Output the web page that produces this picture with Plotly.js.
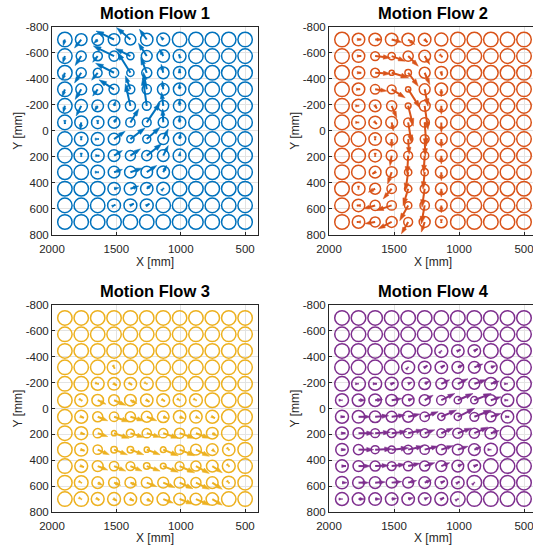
<!DOCTYPE html>
<html>
<head>
<meta charset="utf-8">
<script src="https://cdn.plot.ly/plotly-3.0.1.min.js"></script>
<style>
  html, body { margin: 0; padding: 0; overflow: hidden; background: #fff; }
  #chart { width: 545px; height: 545px; }
</style>
</head>
<body>
<div id="chart"></div>
<script>
// Sensor grid: column centres (X, mm) and row centres (Y, mm)
const colX = [1900, 1773, 1645, 1518, 1391, 1264, 1136, 1009, 882, 755, 627, 500];
const rowY = [-700, -573, -445, -318, -191, -64, 64, 191, 318, 445, 573, 700];

const titles = ['Motion Flow 1', 'Motion Flow 2', 'Motion Flow 3', 'Motion Flow 4'];
const colors = ['#0072BD', '#D95319', '#EDB120', '#7E2F8E'];
const xTicks = [2000, 1500, 1000, 500];
const yTicks = [-800, -600, -400, -200, 0, 200, 400, 600, 800];

// ---- Flow 1: circle radius (mm), displacement u, v (mm) per grid cell ----
const radius1 = [
  [56,45,45,45,42,48,50,56,56,56,56,56],
  [56,39,36,39,28,42,48,50,56,56,56,56],
  [56,39,34,36,28,39,45,48,56,56,56,56],
  [56,42,39,39,34,36,45,48,56,56,56,56],
  [56,48,45,45,39,34,42,48,56,56,56,56],
  [56,50,48,45,36,34,39,48,56,56,56,56],
  [56,53,50,45,28,31,42,48,56,56,56,56],
  [56,56,50,45,39,39,45,50,56,56,56,56],
  [56,56,53,45,45,45,48,56,56,56,56,56],
  [56,56,56,48,48,48,50,56,56,56,56,56],
  [56,56,56,50,50,50,56,56,56,56,56,56],
  [56,56,56,56,56,56,56,56,56,56,56,56]
];
const u1 = [
  [13,52,31,140,107,57,23,0,0,0,0,0],
  [16,47,39,161,117,65,29,5,0,0,0,0],
  [21,52,47,143,99,47,16,0,0,0,0,0],
  [21,47,39,117,39,26,8,0,0,0,0,0],
  [13,39,26,-13,39,31,13,0,0,0,0,0],
  [0,8,0,-26,-65,-104,5,0,0,0,0,0],
  [0,0,-8,-86,-114,-104,-39,-8,0,0,0,0],
  [0,0,-13,-65,-78,-117,-39,-5,0,0,0,0],
  [0,0,-8,-65,-91,-78,-26,0,0,0,0,0],
  [0,0,0,-39,-65,-39,-5,0,0,0,0,0],
  [0,0,0,-10,-26,-21,0,0,0,0,0,0],
  [0,0,0,0,0,0,0,0,0,0,0,0]
];
const v1 = [
  [47,65,31,-65,-91,-78,-26,0,0,0,0,0],
  [52,73,47,-78,-57,-99,-52,-13,0,0,0,0],
  [57,78,57,-73,-156,-117,-65,-31,0,0,0,0],
  [57,78,52,-73,-104,-130,-65,-47,0,0,0,0],
  [52,78,39,-39,-169,-216,-104,-52,0,0,0,0],
  [13,57,13,-39,-104,-151,-104,-47,0,0,0,0],
  [0,8,0,-60,-86,-91,-78,-47,0,0,0,0],
  [0,8,0,-39,-52,-91,-78,-31,0,0,0,0],
  [0,0,0,-21,-31,-52,-52,0,0,0,0,0],
  [0,0,0,-8,-21,-31,-5,0,0,0,0,0],
  [0,0,0,-5,-13,-13,0,0,0,0,0,0],
  [0,0,0,0,0,0,0,0,0,0,0,0]
];

// ---- Flow 2 ----
const radius2 = [
  [56,48,48,48,48,48,50,56,56,56,56,56],
  [56,48,34,28,39,45,50,56,56,56,56,56],
  [56,48,34,20,25,42,48,56,56,56,56,56],
  [56,48,36,34,20,42,48,56,56,56,56,56],
  [56,50,45,39,22,42,45,56,56,56,56,56],
  [56,53,48,45,34,36,45,56,56,56,56,56],
  [56,56,48,45,36,34,45,56,56,56,56,56],
  [56,53,48,42,34,31,45,56,56,56,56,56],
  [56,53,45,42,28,28,45,56,56,56,56,56],
  [56,50,42,36,28,34,45,56,56,56,56,56],
  [56,48,39,36,28,36,45,56,56,56,56,56],
  [56,48,39,42,34,42,45,56,56,56,56,56]
];
const u2 = [
  [0,-21,-52,-78,-52,-21,0,0,0,0,0,0],
  [0,-21,-117,-104,-78,-39,-8,0,0,0,0,0],
  [0,-21,-117,-130,-78,-39,-5,0,0,0,0,0],
  [0,-13,-91,-104,-91,-26,0,0,0,0,0,0],
  [0,-5,-13,-39,-39,-26,0,0,0,0,0,0],
  [0,-5,-13,-13,-26,-13,0,0,0,0,0,0],
  [0,0,0,0,-8,-5,0,0,0,0,0,0],
  [0,0,0,13,8,8,0,0,0,0,0,0],
  [0,0,21,31,21,13,0,0,0,0,0,0],
  [0,0,52,65,39,21,0,0,0,0,0,0],
  [0,13,91,117,65,26,0,0,0,0,0,0],
  [0,13,78,104,52,26,0,0,0,0,0,0]
];
const v2 = [
  [0,0,0,21,39,21,0,0,0,0,0,0],
  [0,0,13,39,78,65,8,0,0,0,0,0],
  [0,0,8,39,104,91,21,0,0,0,0,0],
  [0,0,13,65,143,130,57,0,0,0,0,0],
  [0,0,21,91,156,182,65,0,0,0,0,0],
  [0,0,13,65,156,182,78,0,0,0,0,0],
  [0,0,8,65,117,130,65,0,0,0,0,0],
  [0,0,8,78,143,130,65,0,0,0,0,0],
  [0,0,13,91,143,130,65,0,0,0,0,0],
  [0,5,26,78,130,143,65,0,0,0,0,0],
  [0,0,26,39,117,143,57,0,0,0,0,0],
  [0,0,13,52,91,78,8,0,0,0,0,0]
];

// ---- Flow 3 ----
const radius3 = [
  [56,56,56,56,56,56,56,56,56,56,56,56],
  [56,56,56,56,56,56,56,56,56,56,56,56],
  [56,56,56,56,56,56,56,56,56,56,56,56],
  [56,56,56,53,56,56,56,56,56,56,56,56],
  [56,56,50,48,48,50,56,56,56,56,56,56],
  [56,50,45,42,45,48,50,50,50,56,56,56],
  [56,50,39,36,39,42,45,48,48,50,56,56],
  [56,50,36,20,31,36,36,39,42,45,56,56],
  [56,50,36,25,25,20,22,36,42,45,48,56],
  [56,50,42,36,34,25,22,34,39,45,50,56],
  [56,53,45,42,42,42,42,42,39,45,50,56],
  [56,56,50,50,48,48,48,45,45,48,56,56]
];
const u3 = [
  [0,0,0,0,0,0,0,0,0,0,0,0],
  [0,0,0,0,0,0,0,0,0,0,0,0],
  [0,0,0,0,0,0,0,0,0,0,0,0],
  [0,0,0,-5,0,0,0,0,0,0,0,0],
  [0,0,-8,-21,-13,-5,0,0,0,0,0,0],
  [0,-8,-65,-91,-52,-21,-13,-5,-5,0,0,0],
  [0,-21,-78,-117,-104,-78,-39,-39,-31,-21,0,0],
  [0,-26,-78,-117,-104,-104,-117,-117,-104,-39,0,0],
  [0,-26,-91,-104,-104,-104,-117,-117,-104,-26,-5,0],
  [0,-21,-78,-91,-91,-104,-117,-117,-104,-78,-5,0],
  [0,-5,-39,-52,-52,-78,-91,-104,-104,-78,-5,0],
  [0,-5,-13,-21,-26,-39,-78,-104,-104,-78,0,0]
];
const v3 = [
  [0,0,0,0,0,0,0,0,0,0,0,0],
  [0,0,0,0,0,0,0,0,0,0,0,0],
  [0,0,0,0,0,0,0,0,0,0,0,0],
  [0,0,0,10,0,0,0,0,0,0,0,0],
  [0,0,3,13,8,3,0,0,0,0,0,0],
  [0,5,31,39,26,13,8,3,3,0,0,0],
  [0,8,31,39,31,31,13,13,13,10,0,0],
  [0,8,26,39,31,31,39,39,39,21,0,0],
  [0,8,39,39,39,39,47,47,52,21,5,0],
  [0,8,31,39,39,39,47,52,57,52,5,0],
  [0,3,21,21,21,31,39,47,52,52,5,0],
  [0,3,8,13,13,21,31,39,47,47,0,0]
];

// ---- Flow 4 ----
const radius4 = [
  [56,56,56,56,56,56,56,56,56,56,56,56],
  [56,56,56,56,56,56,56,56,56,56,56,56],
  [56,56,56,56,56,56,50,48,48,56,56,56],
  [56,56,56,56,50,48,48,45,45,48,56,56],
  [56,53,50,50,48,45,42,42,42,48,53,56],
  [50,48,48,45,45,42,36,28,28,42,48,56],
  [50,48,45,42,42,36,28,28,34,39,48,56],
  [48,42,34,34,36,34,34,39,39,45,56,56],
  [48,39,31,28,34,36,39,42,45,50,56,56],
  [48,42,39,34,36,39,42,45,48,56,56,56],
  [48,45,45,42,42,45,48,48,56,56,56,56],
  [50,48,48,48,48,48,50,56,56,56,56,56]
];
const u4 = [
  [0,0,0,0,0,0,0,0,0,0,0,0],
  [0,0,0,0,0,0,0,0,0,0,0,0],
  [0,0,0,0,0,0,-3,-21,-26,0,0,0],
  [0,0,0,0,-3,-21,-26,-47,-65,-39,0,0],
  [0,-3,-13,-21,-31,-39,-65,-78,-91,-65,-3,0],
  [-3,-52,-57,-78,-39,-65,-104,-117,-130,-78,-5,0],
  [-21,-91,-104,-104,-91,-104,-117,-130,-130,-78,-13,0],
  [-26,-117,-117,-117,-117,-78,-91,-104,-104,-65,0,0],
  [-26,-117,-130,-130,-117,-104,-91,-78,-52,-3,0,0],
  [-31,-91,-104,-104,-91,-78,-65,-39,-26,0,0,0],
  [-39,-78,-78,-78,-65,-52,-26,-13,-3,0,0,0],
  [-3,-47,-39,-39,-39,-31,-21,-5,0,0,0,0]
];
const v4 = [
  [0,0,0,0,0,0,0,0,0,0,0,0],
  [0,0,0,0,0,0,0,0,0,0,0,0],
  [0,0,0,0,0,0,-3,-10,-16,0,0,0],
  [0,0,0,0,-3,-13,-16,-21,-26,-13,0,0],
  [0,0,0,-8,-13,-21,-31,-39,-31,-21,0,0],
  [0,0,-5,-13,-13,-39,-52,-52,-52,-26,0,0],
  [0,0,-8,-13,-21,-39,-52,-65,-52,-26,0,0],
  [0,0,-8,-13,-26,-26,-39,-39,-47,-21,0,0],
  [0,0,-5,-13,-26,-26,-31,-26,-21,0,0,0],
  [0,0,-5,-13,-21,-26,-26,-16,-10,0,0,0],
  [0,0,-5,-8,-16,-21,-13,-8,-3,0,0,0],
  [0,0,0,-5,-10,-13,-10,-3,0,0,0,0]
];

const flows = [
  { r: radius1, u: u1, v: v1 },
  { r: radius2, u: u2, v: v2 },
  { r: radius3, u: u3, v: v3 },
  { r: radius4, u: u4, v: v4 }
];

// Figure geometry (page is 545 px square, right edge runs past the window)
const W = 545, H = 545;
const colDomains = [[52 / W, 258 / W], [329 / W, 537 / W]];
const rowDomains = [[1 - 235 / H, 1 - 26.5 / H], [1 - 512 / H, 1 - 305 / H]];
const PX_PER_MM = 0.13;

const FONT = 'Liberation Sans, Arial, Helvetica, sans-serif';
const INK = '#262626';

const traces = [];
const shapes = [];
const annotations = [];
const layout = {
  width: W, height: H,
  margin: { l: 0, r: 0, t: 0, b: 0 },
  paper_bgcolor: '#ffffff',
  plot_bgcolor: '#ffffff',
  showlegend: false,
  font: { family: FONT, color: INK }
};

flows.forEach((f, k) => {
  const id = k + 1;
  const sfx = id === 1 ? '' : String(id);
  const xa = 'x' + sfx, ya = 'y' + sfx;
  const color = colors[k];
  const xd = colDomains[k % 2];
  const yd = rowDomains[Math.floor(k / 2)];

  const axisCommon = {
    showline: true, linecolor: INK, linewidth: 1, mirror: true,
    ticks: 'inside', ticklen: 3, tickcolor: INK, tickwidth: 1,
    showgrid: true, gridcolor: '#e3e3e3', gridwidth: 1, zeroline: false,
    tickfont: { family: FONT, size: 11.5, color: INK }
  };
  layout['xaxis' + sfx] = Object.assign({}, axisCommon, {
    domain: xd, anchor: ya, range: [2000, 400],
    tickmode: 'array', tickvals: xTicks, ticktext: xTicks.map(String),
    ticklabelstandoff: 3,
    title: { text: 'X [mm]', font: { family: FONT, size: 12, color: INK }, standoff: 0 }
  });
  layout['yaxis' + sfx] = Object.assign({}, axisCommon, {
    domain: yd, anchor: xa, range: [800, -800],
    tickmode: 'array', tickvals: yTicks, ticktext: yTicks.map(String),
    title: { text: 'Y [mm]', font: { family: FONT, size: 12, color: INK }, standoff: 0 }
  });

  // circles: one per grid cell, radius from the data
  const xs = [], ys = [], sizes = [];
  f.r.forEach((row, i) => {
    row.forEach((rad, j) => {
      const cx = colX[j], cy = rowY[i];
      shapes.push({
        type: 'circle', xref: xa, yref: ya,
        x0: cx - rad, x1: cx + rad, y0: cy - rad, y1: cy + rad,
        line: { color: color, width: 1.5 },
        fillcolor: 'rgba(0,0,0,0)', layer: 'above'
      });
      const du = f.u[i][j], dv = f.v[i][j];
      if (du !== 0 || dv !== 0) {
        xs.push(cx, cx + du, null);
        ys.push(cy, cy + dv, null);
        const lenPx = Math.hypot(du, dv) * PX_PER_MM;
        sizes.push(0, Math.min(8, 3.5 + 0.25 * lenPx), 0);
      }
    });
  });

  // quiver arrows: shaft from the cell centre, head oriented along the shaft
  traces.push({
    type: 'scatter', mode: 'lines+markers', xaxis: xa, yaxis: ya,
    x: xs, y: ys, hoverinfo: 'skip', cliponaxis: true,
    line: { color: color, width: 2 },
    marker: {
      symbol: 'arrow', angleref: 'previous', size: sizes, opacity: 1,
      color: color, line: { width: 0.5, color: color }
    }
  });

  annotations.push({
    xref: 'paper', yref: 'paper',
    x: (xd[0] + xd[1]) / 2, y: yd[1] + 13.5 / H,
    xanchor: 'center', yanchor: 'middle', showarrow: false,
    text: '<b>' + titles[k] + '</b>',
    font: { family: FONT, size: 16.5, color: '#000000' }
  });
});

layout.shapes = shapes;
layout.annotations = annotations;

Plotly.newPlot('chart', traces, layout, { staticPlot: true, displayModeBar: false });
</script>
</body>
</html>
